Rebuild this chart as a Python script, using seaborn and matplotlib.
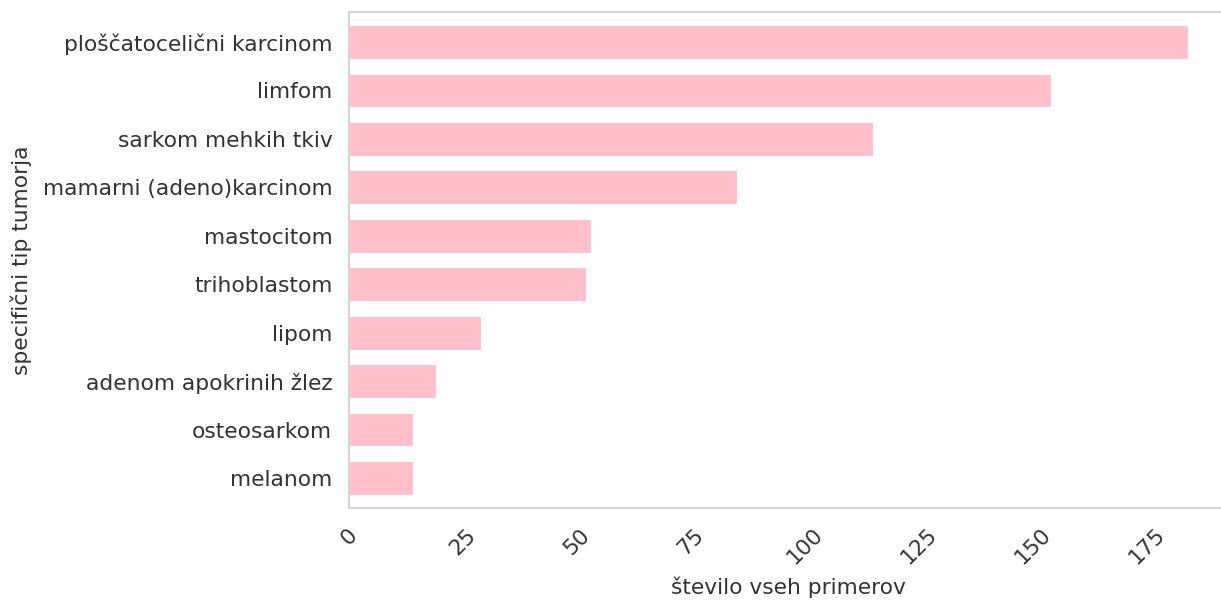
import matplotlib
matplotlib.use("Agg")
import matplotlib.pyplot as plt
import seaborn as sns
import pandas as pd

categories = [
    "ploščatocelični karcinom",
    "limfom",
    "sarkom mehkih tkiv",
    "mamarni (adeno)karcinom",
    "mastocitom",
    "trihoblastom",
    "lipom",
    "adenom apokrinih žlez",
    "osteosarkom",
    "melanom",
]
counts = [184, 154, 115, 85, 53, 52, 29, 19, 14, 14]
xticks = [0, 25, 50, 75, 100, 125, 150, 175]

sns.set_theme(style="white")
plt.rcParams["font.family"] = ["DejaVu Sans"]

df = pd.DataFrame({"tip": categories, "n": counts})

W, H = 1221, 600
fig = plt.figure(figsize=(W / 100, H / 100), dpi=100)
left, right, top, bottom = 349, 1228, 12, 508
ax = fig.add_axes([left / W, 1 - bottom / H, (right - left) / W, (bottom - top) / H])

sns.barplot(data=df, x="n", y="tip", color="pink", saturation=1, width=0.7,
            edgecolor="white", linewidth=0.8, ax=ax)

fs = 15.7
ax.set_xlim(0, 192.8)
ax.set_ylim(len(categories) - 1 + 0.62, -0.62)
ax.set_xticks(xticks)
ax.set_xticklabels([str(t) for t in xticks], rotation=45, fontsize=fs, color="#333333")
ax.tick_params(axis="y", labelsize=fs, labelcolor="#333333", length=0, pad=12)
ax.tick_params(axis="x", length=0, pad=12)
ax.set_xlabel("število vseh primerov", fontsize=fs, color="#333333", labelpad=6)
ax.set_ylabel("specifični tip tumorja", fontsize=fs, color="#333333", labelpad=8)
for s in ax.spines.values():
    s.set_color("#cccccc")
    s.set_linewidth(1.2)
ax.grid(False)

fig.savefig("out.png", dpi=100)
